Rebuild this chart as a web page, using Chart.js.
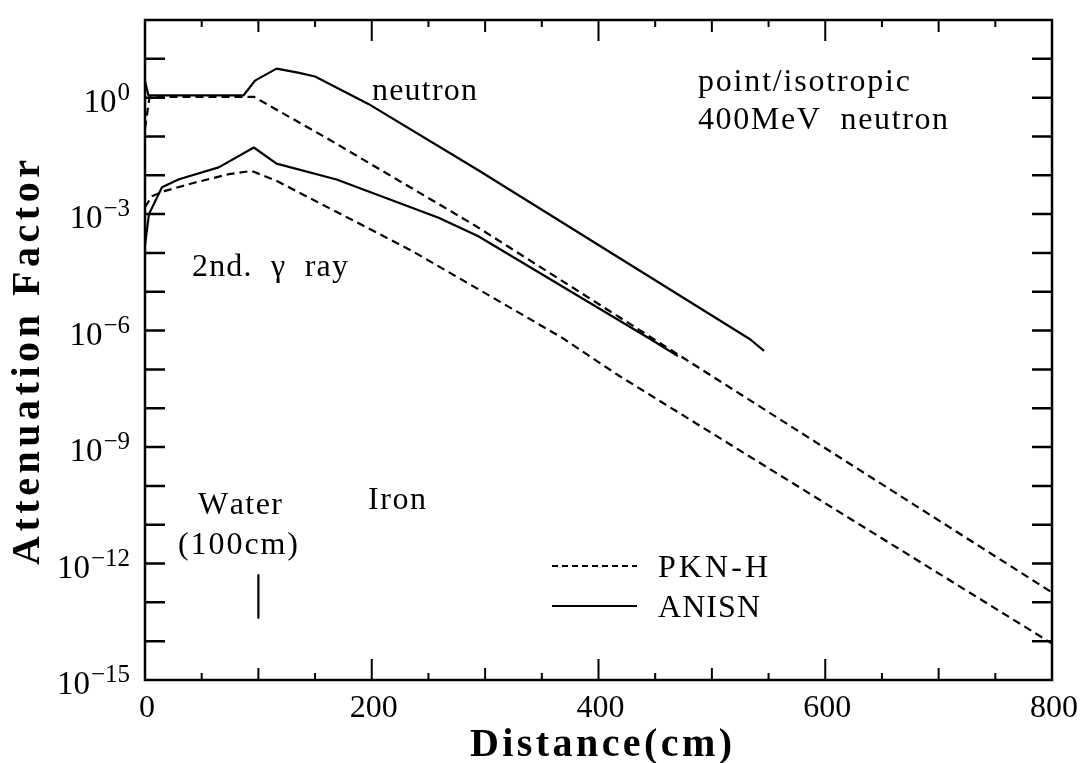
<!DOCTYPE html>
<html>
<head>
<meta charset="utf-8">
<script src="https://cdn.jsdelivr.net/npm/chart.js@4"></script>
<style>
  html, body { margin: 0; padding: 0; background: #fff; }
  canvas { display: block; }
</style>
</head>
<body>
<canvas id="c" width="1086" height="763"></canvas>
<script>
// Attenuation factor vs. distance (cm): 400 MeV point/isotropic neutron source,
// 100 cm of water followed by iron.
const pknNeutronDist = [0, 4, 96, 162, 291, 446, 800];
const pknNeutronVal  = [1.6e-1, 1.05, 1.05, 8.5e-2, 5.1e-4, 6.8e-7, 1.8e-13];

const anisnNeutronDist = [0, 3, 87, 97, 116, 135, 150, 197, 294, 534, 546];
const anisnNeutronVal  = [2.7, 1.15, 1.15, 2.75, 5.6, 4.4, 3.5, 0.69, 1.35e-2, 5.9e-7, 3.0e-7];

const pknGammaDist = [0, 6, 17, 45, 74, 94, 116, 235, 367, 417, 800];
const pknGammaVal  = [1.5e-3, 2.9e-3, 3.9e-3, 6.6e-3, 1.07e-2, 1.3e-2, 7.2e-3, 1.15e-4, 6.8e-7, 7.2e-8, 8.7e-15];

const anisnGammaDist = [0, 3.5, 15, 30, 65, 96, 116, 169, 259, 294, 446, 470];
const anisnGammaVal  = [1.6e-4, 1.0e-3, 4.9e-3, 7.9e-3, 1.6e-2, 5.2e-2, 2.0e-2, 7.8e-3, 8.1e-4, 2.7e-4, 6.0e-7, 2.2e-7];

// water / iron boundary marker
const waterMarkDist = [100, 100];
const waterMarkVal  = [5.0e-13, 4.0e-14];

// axis labelling
const xTickLabels    = [0, 200, 400, 600, 800];
const yTickExponents = [0, -3, -6, -9, -12, -15];
const xMin = 0, xMax = 800, yMin = 1e-15, yMax = 1e2;

const SERIF = '"Liberation Serif", "DejaVu Serif", "Times New Roman", serif';
const DASH = [8, 5];
const LEGEND_DASH = [6, 4];

function pairs(xs, ys) { return xs.map((v, i) => ({ x: v, y: ys[i] })); }

function curve(label, xs, ys, dashed) {
  return {
    label,
    data: pairs(xs, ys),
    borderColor: '#000',
    backgroundColor: '#000',
    borderWidth: 2.2,
    borderDash: dashed ? DASH : [],
    pointRadius: 0,
    tension: 0,
    fill: false,
    borderJoinStyle: 'round'
  };
}

// draw text spread so it spans a given width
function spacedText(ctx, text, left, baseline, width) {
  const chars = [...text];
  const widths = chars.map(c => ctx.measureText(c).width);
  const natural = widths.reduce((s, w) => s + w, 0);
  const gap = chars.length > 1 ? (width - natural) / (chars.length - 1) : 0;
  let px = left;
  chars.forEach((c, i) => { ctx.fillText(c, px, baseline); px += widths[i] + gap; });
}

const framePlugin = {
  id: 'frame',
  beforeDraw(chart) {
    const ctx = chart.ctx;
    ctx.save();
    ctx.fillStyle = '#fff';
    ctx.fillRect(0, 0, chart.width, chart.height);
    ctx.restore();
  },
  afterDatasetsDraw(chart) {
    const { ctx, chartArea: a, scales: { x, y } } = chart;
    ctx.save();
    ctx.strokeStyle = '#000';
    ctx.fillStyle = '#000';
    ctx.lineCap = 'butt';

    // box
    ctx.lineWidth = 2.5;
    ctx.strokeRect(a.left, a.top, a.right - a.left, a.bottom - a.top);

    // decade ticks, inside on both sides
    ctx.lineWidth = 2.5;
    for (let e = -14; e <= 1; e++) {
      const py = y.getPixelForValue(Math.pow(10, e));
      ctx.beginPath();
      ctx.moveTo(a.left, py); ctx.lineTo(a.left + 20, py);
      ctx.moveTo(a.right - 20, py); ctx.lineTo(a.right, py);
      ctx.stroke();
    }
    // distance ticks every 50 cm, inside on top and bottom
    ctx.lineWidth = 2;
    for (let d = 50; d < xMax; d += 50) {
      const len = d % 200 === 0 ? 21 : (d % 100 === 0 ? 12 : 7);
      const px = x.getPixelForValue(d);
      ctx.beginPath();
      ctx.moveTo(px, a.bottom); ctx.lineTo(px, a.bottom - len);
      ctx.moveTo(px, a.top); ctx.lineTo(px, a.top + len);
      ctx.stroke();
    }

    // x tick labels
    ctx.font = '32px ' + SERIF;
    ctx.textAlign = 'center';
    ctx.textBaseline = 'alphabetic';
    xTickLabels.forEach(v => {
      ctx.fillText(String(v), x.getPixelForValue(v) + 2, a.bottom + 37);
    });

    // y tick labels: 10 with superscript exponent
    ctx.textAlign = 'left';
    yTickExponents.forEach(e => {
      const py = y.getPixelForValue(Math.pow(10, e));
      const expText = e < 0 ? '\u2212' + Math.abs(e) : String(e);
      ctx.font = '25px ' + SERIF;
      const we = ctx.measureText(expText).width;
      const expLeft = a.left - 15 - we;
      ctx.fillText(expText, expLeft, py + 2);
      ctx.font = '33px ' + SERIF;
      const wb = ctx.measureText('10').width;
      ctx.fillText('10', expLeft - wb - 1, py + 14);
    });

    // axis titles
    ctx.font = 'bold 40px ' + SERIF;
    spacedText(ctx, 'Distance(cm)', 470, 756, 262);
    ctx.save();
    ctx.translate(39, 565);
    ctx.rotate(-Math.PI / 2);
    spacedText(ctx, 'Attenuation Factor', 0, 0, 405);
    ctx.restore();

    // annotations
    ctx.font = '32px ' + SERIF;
    spacedText(ctx, 'neutron', 372, 100, 105);
    spacedText(ctx, 'point/isotropic', 698, 91, 212);
    spacedText(ctx, '400MeV  neutron', 698, 129, 250);
    spacedText(ctx, '2nd.  \u03b3  ray', 192, 276, 156);
    spacedText(ctx, 'Water', 198, 514, 84);
    spacedText(ctx, '(100cm)', 178, 554, 120);
    spacedText(ctx, 'Iron', 368, 509, 58);

    // legend
    const ds = chart.data.datasets;
    const legendRows = [
      { set: ds[0], label: 'PKN-H', y: 566, w: 110 },
      { set: ds[1], label: 'ANISN', y: 606, w: 102 }
    ];
    legendRows.forEach(r => {
      ctx.save();
      ctx.lineWidth = r.set.borderWidth;
      ctx.setLineDash(r.set.borderDash.length ? LEGEND_DASH : []);
      ctx.beginPath();
      ctx.moveTo(552, r.y); ctx.lineTo(637, r.y);
      ctx.stroke();
      ctx.restore();
      spacedText(ctx, r.label, 658, r.y + 11, r.w);
    });

    ctx.restore();
  }
};

new Chart(document.getElementById('c'), {
  type: 'line',
  data: {
    datasets: [
      curve('PKN-H', pknNeutronDist, pknNeutronVal, true),
      curve('ANISN', anisnNeutronDist, anisnNeutronVal, false),
      curve('PKN-H 2nd gamma', pknGammaDist, pknGammaVal, true),
      curve('ANISN 2nd gamma', anisnGammaDist, anisnGammaVal, false),
      curve('water boundary', waterMarkDist, waterMarkVal, false)
    ]
  },
  options: {
    responsive: false,
    animation: false,
    devicePixelRatio: 1,
    layout: { padding: { left: 145, right: 34, top: 20, bottom: 83 } },
    plugins: { legend: { display: false }, tooltip: { enabled: false } },
    scales: {
      x: { type: 'linear', min: xMin, max: xMax, display: false },
      y: { type: 'logarithmic', min: yMin, max: yMax, display: false }
    }
  },
  plugins: [framePlugin]
});
</script>
</body>
</html>
